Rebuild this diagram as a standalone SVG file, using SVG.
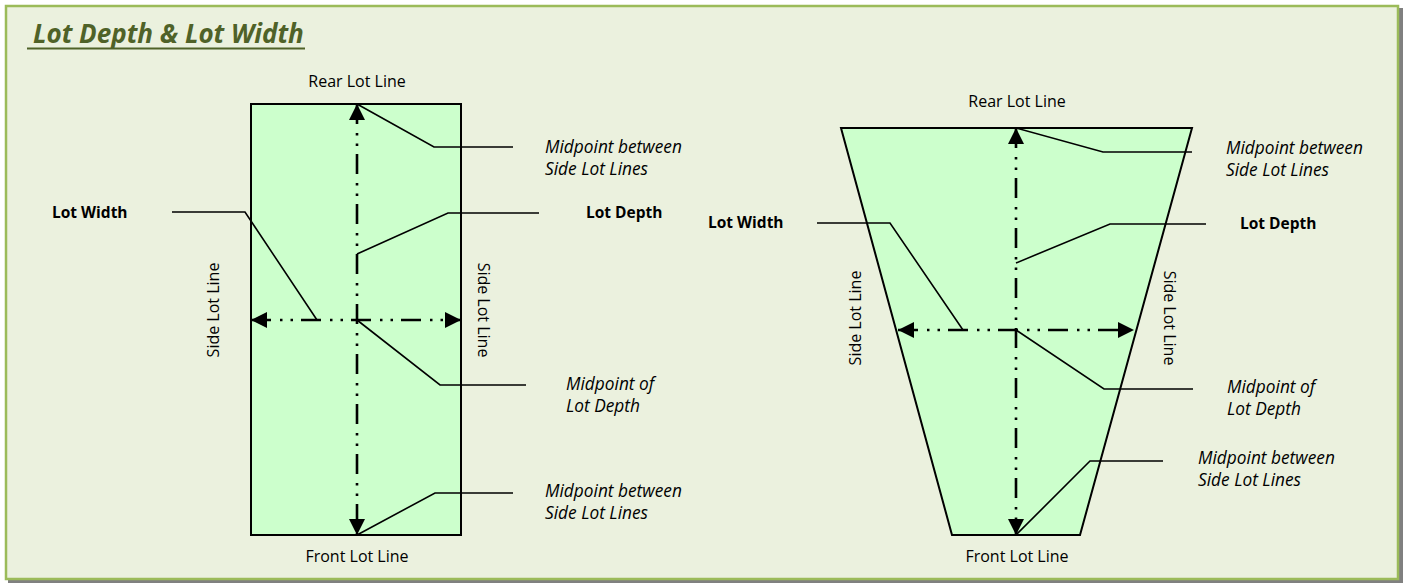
<svg xmlns="http://www.w3.org/2000/svg" width="1403" height="583" viewBox="0 0 1403 583">
<style>
.lot{fill:#CCFFCC;stroke:#000;stroke-width:2}
.dd{fill:none;stroke:#000;stroke-width:2.6;stroke-dasharray:20 9 2.5 8 2.5 8}
.ld{fill:none;stroke:#000;stroke-width:1.6}
.t{font-family:"Open Sans","Liberation Sans",sans-serif;font-size:16px;fill:#000}
.i{font-family:"Open Sans","Liberation Sans",sans-serif;font-size:17.3px;font-style:italic;fill:#000}
.b{font-family:"Open Sans","Liberation Sans",sans-serif;font-size:15.5px;font-weight:bold;fill:#000}
.title{font-family:"Open Sans","Liberation Sans",sans-serif;font-size:26px;font-weight:bold;font-style:italic;fill:#4F6228}
</style>
<defs>
<marker id="ah" markerUnits="userSpaceOnUse" markerWidth="16" markerHeight="16" viewBox="0 0 16 16" refX="16" refY="8" orient="auto-start-reverse">
<path d="M0,0 L16,8 L0,16 Z" fill="#000"/>
</marker>
</defs>
<rect x="8" y="8" width="1395" height="575" fill="#808080"/>
<rect x="6" y="6" width="1392" height="573" fill="#EBF1DE" stroke="#9BBB59" stroke-width="2.5"/>
<g id="title">
<text class="title" x="33" y="43">Lot Depth &amp; Lot Width</text>
<line x1="27" y1="48.5" x2="305" y2="48.5" stroke="#4F6228" stroke-width="2.2"/>
</g>
<g id="lot-rect">
<rect class="lot" x="251" y="104" width="210" height="431"/>
</g>
<g id="lot-trap">
<polygon class="lot" points="841,128 1192,128 1080,535 952,535"/>
</g>
<g id="connectors">
<line class="dd" x1="357" y1="104" x2="357" y2="535" marker-start="url(#ah)" marker-end="url(#ah)"/>
<line class="dd" x1="251" y1="320" x2="461" y2="320" marker-start="url(#ah)" marker-end="url(#ah)"/>
<polyline class="ld" points="357,104 434,147 513,147"/>
<polyline class="ld" points="172,212 245,212 317,320"/>
<polyline class="ld" points="357,254 448,213 539,213"/>
<polyline class="ld" points="357,320 440,385 526,385"/>
<polyline class="ld" points="357,535 435,493 513,493"/>
<line class="dd" x1="1016" y1="128" x2="1016" y2="535" marker-start="url(#ah)" marker-end="url(#ah)"/>
<line class="dd" x1="898" y1="330" x2="1134" y2="330" marker-start="url(#ah)" marker-end="url(#ah)"/>
<polyline class="ld" points="1016,128 1103,152 1192,152"/>
<polyline class="ld" points="817,223 890,223 963,330"/>
<polyline class="ld" points="1016,263 1110,224 1206,224"/>
<polyline class="ld" points="1016,330 1104,389 1193,389"/>
<polyline class="ld" points="1016,535 1090,461 1163,461"/>
</g>
<g id="labels-left">
<text class="t" x="357" y="87" text-anchor="middle">Rear Lot Line</text>
<text class="t" x="357" y="562" text-anchor="middle">Front Lot Line</text>
<text class="t" transform="translate(219,310) rotate(-90)" text-anchor="middle">Side Lot Line</text>
<text class="t" transform="translate(478,310) rotate(90)" text-anchor="middle">Side Lot Line</text>
<text class="b" x="52" y="218">Lot Width</text>
<text class="b" x="586" y="218">Lot Depth</text>
<text class="i" x="545" y="153">Midpoint between</text>
<text class="i" x="545" y="175">Side Lot Lines</text>
<text class="i" x="566" y="390">Midpoint of</text>
<text class="i" x="566" y="412">Lot Depth</text>
<text class="i" x="545" y="497">Midpoint between</text>
<text class="i" x="545" y="519">Side Lot Lines</text>
</g>
<g id="labels-right">
<text class="t" x="1017" y="107" text-anchor="middle">Rear Lot Line</text>
<text class="t" x="1017" y="562" text-anchor="middle">Front Lot Line</text>
<text class="t" transform="translate(861,318) rotate(-90)" text-anchor="middle">Side Lot Line</text>
<text class="t" transform="translate(1164,318) rotate(90)" text-anchor="middle">Side Lot Line</text>
<text class="b" x="708" y="228">Lot Width</text>
<text class="b" x="1240" y="229">Lot Depth</text>
<text class="i" x="1226" y="154">Midpoint between</text>
<text class="i" x="1226" y="176">Side Lot Lines</text>
<text class="i" x="1227" y="393">Midpoint of</text>
<text class="i" x="1227" y="415">Lot Depth</text>
<text class="i" x="1198" y="464">Midpoint between</text>
<text class="i" x="1198" y="486">Side Lot Lines</text>
</g>
</svg>
